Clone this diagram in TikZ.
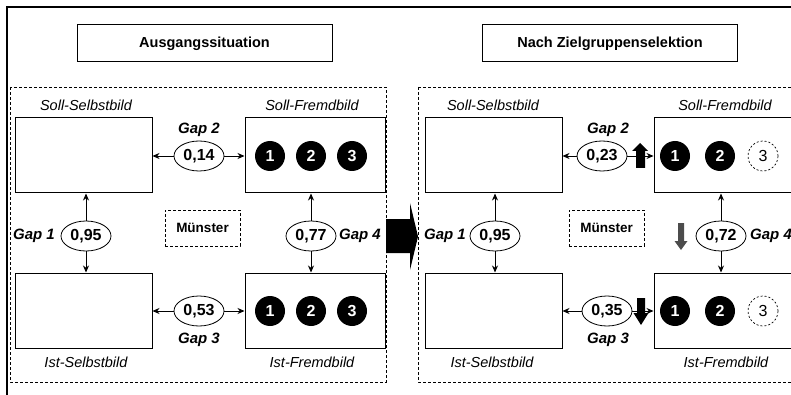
\documentclass[tikz,border=0pt]{standalone}
\usepackage{fontspec}
\setmainfont{Liberation Sans}
\usetikzlibrary{shapes.geometric, arrows.meta}

\begin{document}
\begin{tikzpicture}[x=1pt, y=-1pt,
  titel/.style={draw, line width=1pt, minimum width=255pt, minimum height=37pt, font=\fontsize{14.5}{17}\selectfont\bfseries},
  panel/.style={line width=0.7pt, dash pattern=on 3pt off 2pt},
  bild/.style={draw, line width=1pt, minimum width=137pt, minimum height=75pt, inner sep=0pt},
  bildlabel/.style={font=\fontsize{14.5}{17}\selectfont\itshape},
  gaplabel/.style={font=\fontsize{15}{18}\selectfont\bfseries\itshape},
  gapval/.style={ellipse, draw, line width=0.8pt, fill=white, minimum width=50pt, minimum height=30pt, inner sep=0pt, font=\fontsize{16}{19}\selectfont\bfseries},
  ort/.style={draw, line width=0.7pt, dash pattern=on 3pt off 2pt, minimum width=75pt, minimum height=36pt, font=\fontsize{13.5}{16}\selectfont\bfseries},
  ball/.style={circle, fill=black, text=white, minimum size=30pt, inner sep=0pt, font=\fontsize{16}{19}\selectfont\bfseries},
  ballopen/.style={circle, draw, line width=0.7pt, dash pattern=on 2pt off 2pt, minimum size=30pt, inner sep=0pt, font=\fontsize{16}{19}\selectfont},
  link/.style={-{Stealth[length=7pt, width=6pt]}, line width=0.8pt}]

  % Frame
  \useasboundingbox (0,0) rectangle (791,395);
  \clip (0,0) rectangle (791,395);
  \draw[line width=1.6pt] (7,395) -- (7,7) -- (791,7);

  % Titles
  \node[titel] (ausgang) at (204.5,43.5) {Ausgangssituation};
  \node[titel] (nach) at (610,43.5) {Nach Zielgruppenselektion};

  % Dashed panels and the arrow between them
  \draw[panel] (10,87) rectangle (386,382);
  \draw[panel] (418,87) rectangle (797,382);
  \fill (386,219) -- (410,219) -- (410,203) -- (418,236.5) -- (410,270) -- (410,253) -- (386,253) -- cycle;

  % Left panel: boxes
  \node[bild] (ssA) at (83.5,155.5) {};
  \node[bild, minimum width=140pt] (sfA) at (315,155.5) {};
  \node[bild] (isA) at (83.5,310.5) {};
  \node[bild, minimum width=140pt] (ifA) at (315,310.5) {};
  \node[bildlabel] (ssAt) at (86,105) {Soll-Selbstbild};
  \node[bildlabel] (sfAt) at (312,105) {Soll-Fremdbild};
  \node[bildlabel] (isAt) at (86,362) {Ist-Selbstbild};
  \node[bildlabel] (ifAt) at (312,362) {Ist-Fremdbild};

  % Left panel: gaps
  \node[gapval] (g2A) at (199,156) {0,14};
  \node[gaplabel] (g2At) at (199,130) {Gap 2};
  \draw[link] (g2A.west) -- (g2A.west -| ssA.east);
  \draw[link] (g2A.east) -- (g2A.east -| sfA.west);

  \node[gapval] (g3A) at (199,311) {0,53};
  \node[gaplabel] (g3At) at (199,340) {Gap 3};
  \draw[link] (g3A.west) -- (g3A.west -| isA.east);
  \draw[link] (g3A.east) -- (g3A.east -| ifA.west);

  \node[gapval] (g1A) at (86,236) {0,95};
  \node[gaplabel] (g1At) at (34,236) {Gap 1};
  \draw[link] (g1A.north) -- (g1A.north |- ssA.south);
  \draw[link] (g1A.south) -- (g1A.south |- isA.north);

  \node[gapval] (g4A) at (311,236) {0,77};
  \node[gaplabel] (g4At) at (360,236) {Gap 4};
  \draw[link] (g4A.north) -- (g4A.north |- sfA.south);
  \draw[link] (g4A.south) -- (g4A.south |- ifA.north);

  \node[ort] (ortA) at (202.5,228) {Münster};

  % Left panel: target groups
  \node[ball] (b1A) at (270,156) {1};
  \node[ball] (b2A) at (311,156) {2};
  \node[ball] (b3A) at (352,156) {3};
  \node[ball] (c1A) at (270,311) {1};
  \node[ball] (c2A) at (311,311) {2};
  \node[ball] (c3A) at (352,311) {3};

  % Right panel: boxes
  \node[bild] (ssB) at (493.5,155.5) {};
  \node[bild, minimum width=140pt] (sfB) at (724,155.5) {};
  \node[bild] (isB) at (493.5,310.5) {};
  \node[bild, minimum width=140pt] (ifB) at (724,310.5) {};
  \node[bildlabel] (ssBt) at (493,105) {Soll-Selbstbild};
  \node[bildlabel] (sfBt) at (725,105) {Soll-Fremdbild};
  \node[bildlabel] (isBt) at (492,362) {Ist-Selbstbild};
  \node[bildlabel] (ifBt) at (726,362) {Ist-Fremdbild};

  % Right panel: gaps
  \node[gapval] (g2B) at (602,156) {0,23};
  \node[gaplabel] (g2Bt) at (608,130) {Gap 2};
  \draw[link] (g2B.west) -- (g2B.west -| ssB.east);
  \draw[link] (g2B.east) -- (g2B.east -| sfB.west);

  \node[gapval] (g3B) at (607,311) {0,35};
  \node[gaplabel] (g3Bt) at (608,340) {Gap 3};
  \draw[link] (g3B.west) -- (g3B.west -| isB.east);
  \draw[link] (g3B.east) -- (g3B.east -| ifB.west);

  \node[gapval] (g1B) at (495,236) {0,95};
  \node[gaplabel] (g1Bt) at (445,236) {Gap 1};
  \draw[link] (g1B.north) -- (g1B.north |- ssB.south);
  \draw[link] (g1B.south) -- (g1B.south |- isB.north);

  \node[gapval] (g4B) at (721,236) {0,72};
  \node[gaplabel] (g4Bt) at (771,236) {Gap 4};
  \draw[link] (g4B.north) -- (g4B.north |- sfB.south);
  \draw[link] (g4B.south) -- (g4B.south |- ifB.north);

  \node[ort] (ortB) at (606.5,228) {Münster};

  % Right panel: target groups
  \node[ball] (b1B) at (675,156) {1};
  \node[ball] (b2B) at (720,156) {2};
  \node[ballopen] (b3B) at (763,156) {3};
  \node[ball] (c1B) at (675,311) {1};
  \node[ball] (c2B) at (720,311) {2};
  \node[ballopen] (c3B) at (763,311) {3};

  % Change markers
  \fill (636,168) -- (636,151) -- (632,151) -- (640,143) -- (648,151) -- (645,151) -- (645,168) -- cycle;
  \fill[black!70] (678,223) -- (684,223) -- (684,241) -- (687.5,241) -- (681,250) -- (674.5,241) -- (678,241) -- cycle;
  \fill (637,298) -- (645,298) -- (645,313) -- (648.5,313) -- (641,325) -- (633.5,313) -- (637,313) -- cycle;
\end{tikzpicture}
\end{document}
